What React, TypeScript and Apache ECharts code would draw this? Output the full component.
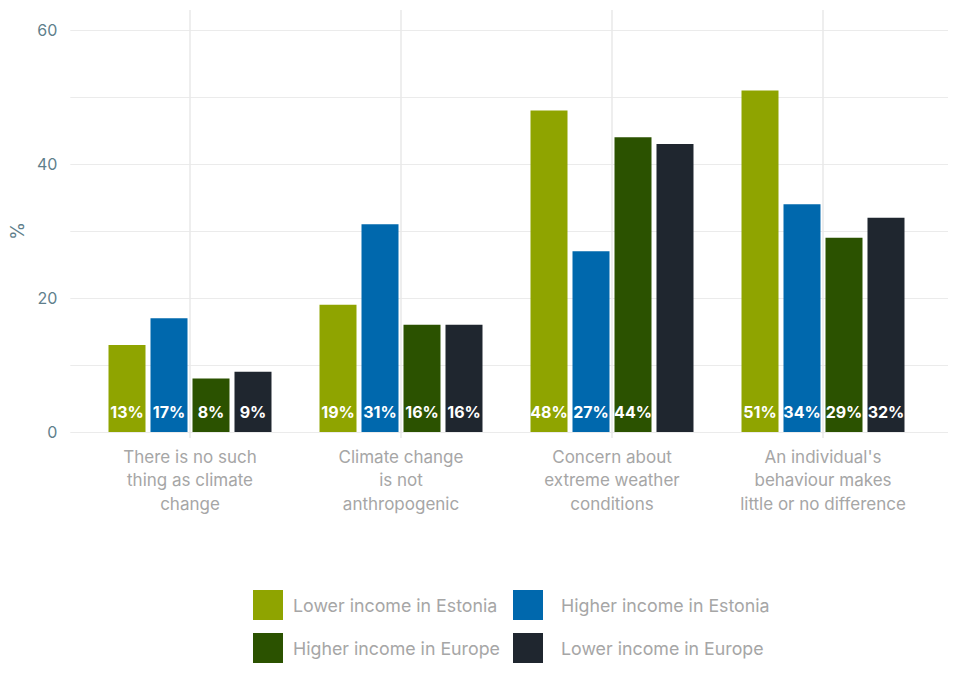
import React, { useEffect, useRef } from "react";
import * as echarts from "echarts";

const categories = [
  "There is no such\nthing as climate\nchange",
  "Climate change\nis not\nanthropogenic",
  "Concern about\nextreme weather\nconditions",
  "An individual's\nbehaviour makes\nlittle or no difference",
];
const seriesNames = [
  "Lower income in Estonia",
  "Higher income in Estonia",
  "Higher income in Europe",
  "Lower income in Europe",
];
const lowerEstonia = [13, 19, 48, 51];
const higherEstonia = [17, 31, 27, 34];
const higherEurope = [8, 16, 44, 29];
const lowerEurope = [9, 16, 43, 32];
const colors = ["#8fa400", "#0068ad", "#2b5200", "#1f262f"];
// label hidden in the original for this point (Lower income in Europe, 3rd category)
const hiddenLabels: [number, number][] = [[3, 2]];

const FONT = "Inter, 'Open Sans', sans-serif";

export default function App() {
  const ref = useRef<HTMLDivElement>(null);
  useEffect(() => {
    if (!ref.current) return;
    const chart = echarts.init(ref.current, null, { renderer: "svg" });
    const all = [lowerEstonia, higherEstonia, higherEurope, lowerEurope];
    const series = all.map((vals, si) => ({
      name: seriesNames[si],
      type: "bar",
      xAxisIndex: 1,
      yAxisIndex: 1,
      barWidth: 37,
      barGap: "13.5%",
      clip: false,
      itemStyle: { color: colors[si] },
      label: {
        show: true,
        position: "insideBottom",
        distance: 12,
        color: "#ffffff",
        fontWeight: "bold",
        fontSize: 16,
        fontFamily: FONT,
        formatter: "{c}%",
      },
      data: vals.map((v, ci) =>
        hiddenLabels.some(([s, c]) => s === si && c === ci)
          ? { value: v, label: { show: false } }
          : v
      ),
    }));
    chart.setOption({
      animation: false,
      textStyle: { fontFamily: FONT },
      color: colors,
      grid: [
        { left: 66, right: 12, top: 30, bottom: 254 },
        { left: 190, right: 137, top: 10, bottom: 254 },
      ],
      xAxis: [
        { type: "value", gridIndex: 0, min: 0, max: 1, show: false },
        {
          type: "category",
          gridIndex: 1,
          boundaryGap: false,
          data: categories,
          axisLine: { show: false },
          axisTick: { show: true, interval: 0, length: 6, lineStyle: { color: "#e8e8e8", width: 1.5 } },
          splitLine: { show: true, interval: 0, lineStyle: { color: "#e8e8e8", width: 1.5 } },
          axisLabel: {
            interval: 0,
            color: "#a6a6a6",
            fontSize: 17,
            lineHeight: 23.5,
            margin: 13,
            fontFamily: FONT,
          },
        },
      ],
      yAxis: [
        {
          type: "value",
          gridIndex: 0,
          min: 0,
          max: 60,
          interval: 10,
          name: "%",
          nameLocation: "middle",
          nameGap: 42,
          nameTextStyle: { color: "#5f7f8c", fontSize: 18, fontFamily: FONT },
          axisLine: { show: false },
          axisTick: { show: false },
          splitLine: { show: true, lineStyle: { color: "#ebebeb", width: 1 } },
          axisLabel: {
            color: "#5f7f8c",
            fontSize: 16,
            margin: 13,
            fontFamily: FONT,
            formatter: (v: number) => (v % 20 === 0 ? String(v) : ""),
          },
        },
        { type: "value", gridIndex: 1, min: 0, max: 63, show: false },
      ],
      legend: [
        {
          data: [seriesNames[0], seriesNames[2]],
          orient: "vertical",
          left: 253,
          top: 590,
          padding: 0,
          itemWidth: 30,
          itemHeight: 30,
          itemGap: 13,
          icon: "rect",
          selectedMode: false,
          textStyle: { color: "#a6a6a6", fontSize: 17.8, fontFamily: FONT, padding: [3, 0, 0, 5] },
        },
        {
          data: [seriesNames[1], seriesNames[3]],
          orient: "vertical",
          left: 513,
          top: 590,
          padding: 0,
          itemWidth: 30,
          itemHeight: 30,
          itemGap: 13,
          icon: "rect",
          selectedMode: false,
          textStyle: { color: "#a6a6a6", fontSize: 17.8, fontFamily: FONT, padding: [3, 0, 0, 13] },
        },
      ],
      series,
    });
    return () => chart.dispose();
  }, []);
  return <div ref={ref} style={{ width: 960, height: 686, margin: -8 }} />;
}
